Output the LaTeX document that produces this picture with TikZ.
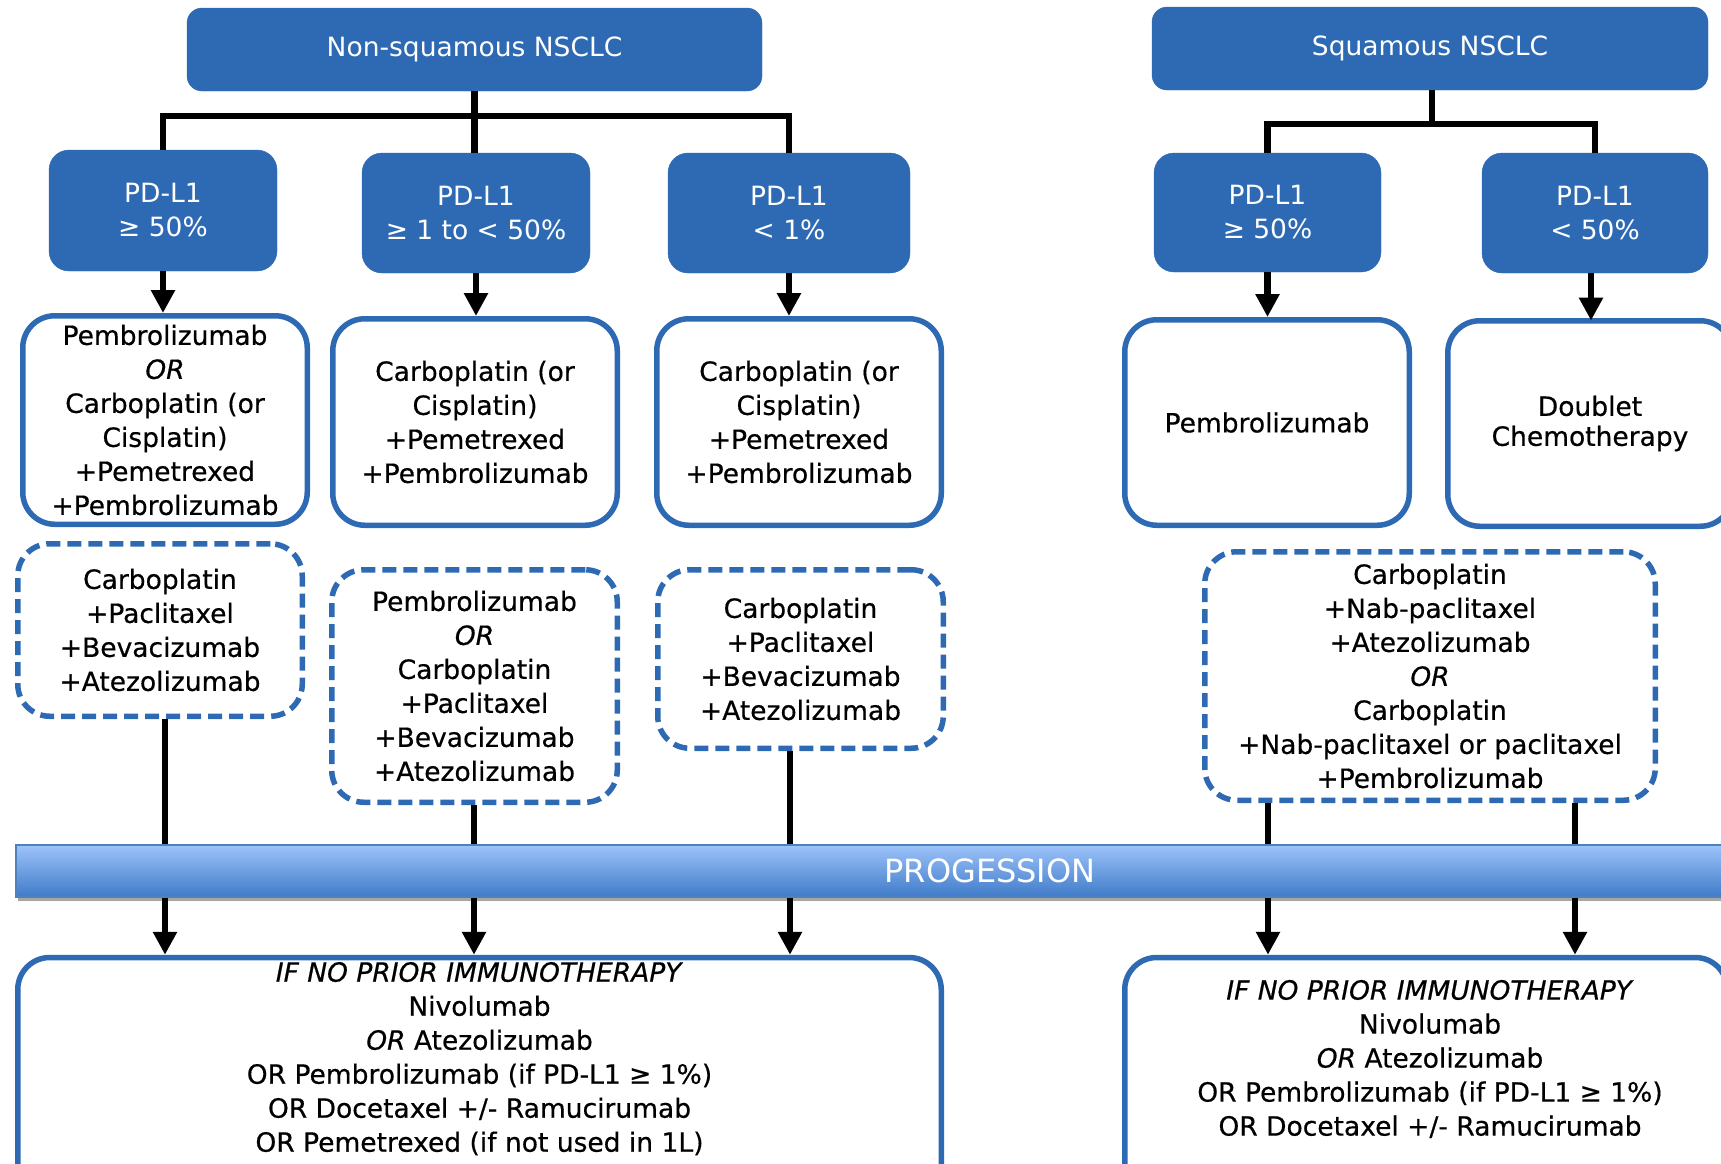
\documentclass[tikz,border=0pt]{standalone}
\usepackage{fontspec}
\setmainfont{DejaVu Sans}
\newfontfamily\bodyfont{DejaVu Sans}[FakeBold=0.5]
\usetikzlibrary{arrows.meta,shadows}
\definecolor{nblue}{RGB}{46,106,180}
\definecolor{bartop}{RGB}{157,195,250}
\definecolor{barbot}{RGB}{63,123,200}
\definecolor{barline}{RGB}{79,129,189}
\newcommand\myfs{\fontsize{26.5}{34}\selectfont}
\newcommand\mybfs{\bodyfont\fontsize{26.5}{34}\selectfont}
\begin{document}
\begin{tikzpicture}[x=1pt,y=-1pt,
  hdr/.style={fill=nblue, draw=nblue, rounded corners=15pt, text=white, font=\myfs, align=center, inner sep=0pt},
  pdl/.style={hdr, rounded corners=20pt},
  solidbox/.style={draw=nblue, line width=5.5pt, rounded corners=32pt, fill=white, align=center, font=\mybfs, inner sep=0pt},
  dashbox/.style={solidbox, dash pattern=on 14pt off 7pt},
  txt/.style={align=center, font=\mybfs, inner sep=0pt},
  bar/.style={draw=barline, line width=1.2pt, top color=bartop, bottom color=barbot, text=white,
     font=\fontsize{32}{38}\selectfont, inner sep=0pt,
     drop shadow={shadow xshift=2pt, shadow yshift=-4pt, opacity=0.35, fill=black}},
  conn/.style={line width=6.5pt, black},
  arr/.style={conn, -{Triangle[width=23pt,length=23pt]}}]
\path[use as bounding box] (0,0) rectangle (1721,1163);
\fill[white] (0,0) rectangle (1721,1163);
\begin{scope}
\clip (0,0) rectangle (1721,1163);
% headers
\node[hdr, minimum width=575pt, minimum height=83pt] (ns) at (474.5,49.5) {Non-squamous NSCLC};
\node[hdr, minimum width=556pt, minimum height=83pt] (sq) at (1430,48.5) {Squamous NSCLC};
% PD-L1 boxes
\node[pdl, minimum width=228pt, minimum height=121pt] (pA) at (163,210.5) {PD-L1\\≥ 50\%};
\node[pdl, minimum width=228pt, minimum height=120pt] (pB) at (476,213) {PD-L1\\≥ 1 to < 50\%};
\node[pdl, minimum width=242pt, minimum height=120pt] (pC) at (789,213) {PD-L1\\< 1\%};
\node[pdl, minimum width=227pt, minimum height=119pt] (pD) at (1267.5,212.5) {PD-L1\\≥ 50\%};
\node[pdl, minimum width=226pt, minimum height=120pt] (pE) at (1595,213) {PD-L1\\< 50\%};
% first-line boxes
\node[solidbox, minimum width=284.5pt, minimum height=208.5pt] (sA) at (165,420) {Pembrolizumab\\\textit{OR}\\Carboplatin (or\\Cisplatin)\\+Pemetrexed\\+Pembrolizumab};
\node[solidbox, minimum width=284.5pt, minimum height=206.5pt] (sB) at (475,422) {Carboplatin (or\\Cisplatin)\\+Pemetrexed\\+Pembrolizumab};
\node[solidbox, minimum width=284.5pt, minimum height=206.5pt] (sC) at (799,422) {Carboplatin (or\\Cisplatin)\\+Pemetrexed\\+Pembrolizumab};
\node[solidbox, minimum width=284.5pt, minimum height=205.5pt] (sD) at (1267,422.5) {Pembrolizumab};
\node[solidbox, minimum width=284.5pt, minimum height=205.5pt] (sE) at (1590,423.5) {Doublet\\[-4pt]Chemotherapy};
% dashed boxes
\node[dashbox, minimum width=284.5pt, minimum height=172.5pt] (dA) at (160,630) {Carboplatin\\+Paclitaxel\\+Bevacizumab\\+Atezolizumab};
\node[dashbox, minimum width=285.5pt, minimum height=232.5pt] (dB) at (474.5,686) {Pembrolizumab\\\textit{OR}\\Carboplatin\\+Paclitaxel\\+Bevacizumab\\+Atezolizumab};
\node[dashbox, minimum width=285.5pt, minimum height=178.5pt] (dC) at (800.5,659) {Carboplatin\\+Paclitaxel\\+Bevacizumab\\+Atezolizumab};
\node[dashbox, minimum width=450.5pt, minimum height=248.5pt] (dD) at (1430,676) {Carboplatin\\+Nab-paclitaxel\\+Atezolizumab\\\textit{OR}\\Carboplatin\\+Nab-paclitaxel or paclitaxel\\+Pembrolizumab};
% progression bar
\node[bar, minimum width=1948pt, minimum height=52pt] (bar) at (990,871) {PROGESSION};
% bottom boxes
\node[solidbox, anchor=north, minimum width=923.5pt, minimum height=300pt] (bL) at (479.5,954.75) {};
\node[txt] (bLt) at (479.5,1058.6) {\textit{IF NO PRIOR IMMUNOTHERAPY}\\Nivolumab\\\textit{OR} Atezolizumab\\OR Pembrolizumab (if PD-L1 ≥ 1\%)\\OR Docetaxel +/- Ramucirumab\\OR Pemetrexed (if not used in 1L)};
\node[solidbox, anchor=north, minimum width=602.5pt, minimum height=300pt] (bR) at (1426,954.75) {};
\node[txt] (bRt) at (1430,1059) {\textit{IF NO PRIOR IMMUNOTHERAPY}\\Nivolumab\\\textit{OR} Atezolizumab\\OR Pembrolizumab (if PD-L1 ≥ 1\%)\\OR Docetaxel +/- Ramucirumab};
% column coordinates
\coordinate (cA) at (165,0);
\coordinate (cB) at (474,0);
\coordinate (cC) at (790,0);
\coordinate (cD) at (1268,0);
\coordinate (cE) at (1575,0);
\coordinate (nsj) at (474.5,116);
\coordinate (sqj) at (1432,124);
% tree connectors
\draw[conn] (pA.north) |- (nsj) -| (pC.north);
\draw[conn] (ns.south) -- (ns.south |- pB.north);
\draw[conn] (pD.north) |- (sqj) -| (pE.north);
\draw[conn] (sq.south -| sqj) -- (sqj);
% arrows to first-line boxes
\draw[arr] (pA.south) -- (pA.south |- sA.north);
\draw[arr] (pB.south) -- (pB.south |- sB.north);
\draw[arr] (pC.south) -- (pC.south |- sC.north);
\draw[arr] (pD.south) -- (pD.south |- sD.north);
\draw[arr] (1591,273) -- (1591,320.5);
% lines to the bar
\draw[conn] (cA |- dA.south) -- (cA |- bar.north);
\draw[conn] (cB |- dB.south) -- (cB |- bar.north);
\draw[conn] (cC |- dC.south) -- (cC |- bar.north);
\draw[conn] (cD |- dD.south) -- (cD |- bar.north);
\draw[conn] (cE |- dD.south) -- (cE |- bar.north);
% arrows after progression
\draw[arr] (cA |- bar.south) -- (cA |- bL.north);
\draw[arr] (cB |- bar.south) -- (cB |- bL.north);
\draw[arr] (cC |- bar.south) -- (cC |- bL.north);
\draw[arr] (cD |- bar.south) -- (cD |- bR.north);
\draw[arr] (cE |- bar.south) -- (cE |- bR.north);
\end{scope}
\end{tikzpicture}
\end{document}
